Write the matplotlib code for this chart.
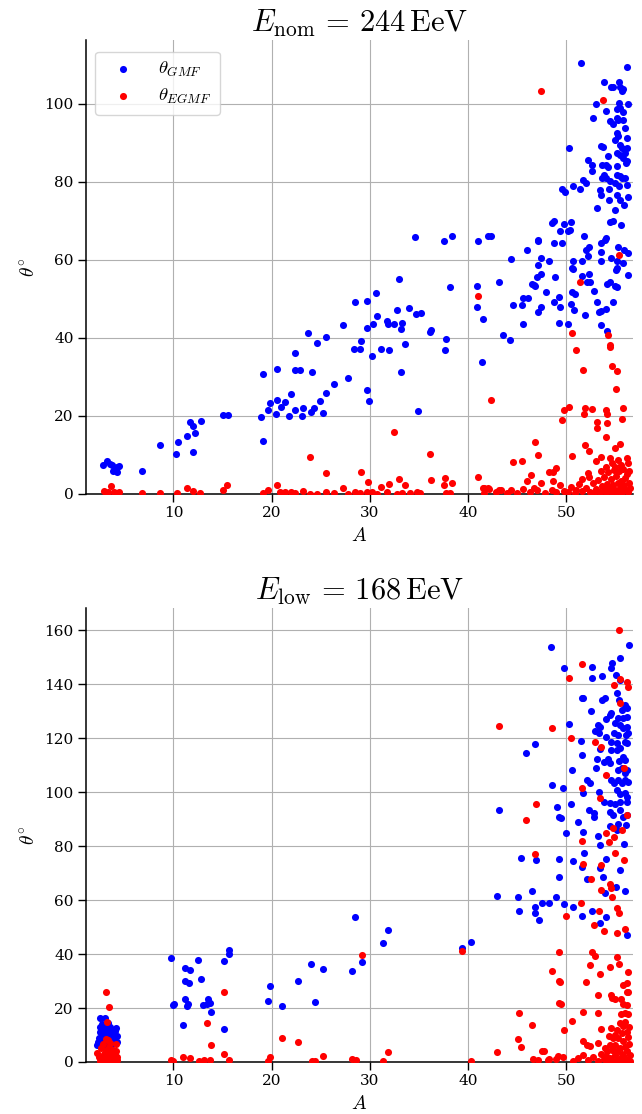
"""
Deflection angles of the simulated cosmic rays against the mass number A,
for the nominal and the low energy case.
"""
import numpy as np
import matplotlib.pyplot as plt

plt.rcParams["font.family"] = "serif"
plt.rcParams["mathtext.fontset"] = "cm"

# (A, theta)
gmf_nom = [
    (2.87, 7.4), (3.28, 8.5), (3.72, 7.3), (3.89, 6.0), (4.23, 5.7), (4.5, 7.2), (4.06, 6.6), (3.5, 7.8), (4.3, 6.9),
    (6.78, 5.9), (8.68, 12.6), (10.3, 10.2), (10.45, 13.2), (11.43, 14.9), (11.73, 18.4), (12.04, 17.4), (12.2, 15.7),
    (12.04, 10.8), (12.79, 18.8), (15.03, 20.2), (15.54, 20.3),
    (19.1, 13.6), (18.96, 19.8), (19.13, 30.8), (19.6, 21.4), (19.85, 23.3), (20.5, 24.0), (20.46, 20.5), (20.5, 32.1),
    (20.94, 22.3), (21.35, 23.6), (21.75, 19.9), (21.99, 25.6), (22.33, 21.4), (22.33, 36.2), (22.33, 31.7), (22.9, 31.7),
    (23.14, 19.9), (23.24, 22.0), (23.75, 41.2), (23.99, 20.9), (24.09, 31.2), (24.3, 21.9), (24.6, 38.8), (24.94, 23.9),
    (25.2, 20.8), (25.55, 40.2), (25.55, 25.8),
    (26.4, 28.2), (27.3, 43.3), (27.8, 29.7), (28.47, 49.1), (28.4, 37.2), (29.0, 37.2), (29.1, 39.1), (29.7, 49.4),
    (29.76, 42.6), (29.76, 26.7), (29.9, 23.7), (30.2, 35.3), (30.3, 43.5), (30.64, 51.4), (30.7, 45.6), (31.1, 37.1),
    (31.76, 44.4), (31.9, 43.5), (32.0, 36.8), (32.47, 43.5), (32.8, 47.2), (33.0, 55.2), (33.2, 42.2), (33.3, 43.9),
    (33.56, 38.3), (33.2, 31.3), (34.0, 47.6), (34.65, 65.8), (34.7, 46.2), (35.2, 46.4), (34.9, 21.3), (36.1, 41.4),
    (36.2, 41.9), (37.6, 64.8), (37.7, 36.8), (37.77, 39.7), (38.15, 53.0), (38.35, 66.0), (41.0, 64.9), (40.96, 53.2),
    (40.96, 48.0), (41.57, 44.8), (41.4, 33.8), (42.0, 66.2), (42.35, 66.1), (43.2, 54.4),
    (51.5, 110.5), (56.2, 109.3), (53.8, 105.6), (54.6, 104.4), (54.8, 104.4), (55.4, 105.6), (55.5, 104.4), (55.7, 103.2),
    (55.8, 103.8), (53.0, 100.0), (55.4, 100.2), (56.3, 100.0), (54.1, 98.2), (55.2, 98.6), (55.5, 99.0), (55.8, 97.8),
    (52.7, 96.3), (54.5, 95.6), (54.8, 94.8), (55.2, 96.3), (55.3, 95.9), (55.8, 95.9), (56.0, 93.8), (55.2, 92.5),
    (55.3, 91.6), (56.2, 91.1), (55.0, 90.8), (50.3, 88.6), (53.5, 89.1), (53.7, 88.8), (55.5, 89.5), (55.7, 88.6),
    (56.2, 88.6), (56.0, 87.4), (55.5, 86.9), (55.2, 87.4), (55.8, 86.1), (54.3, 86.5), (52.2, 85.5), (56.2, 85.2),
    (56.1, 84.8), (52.6, 84.2), (52.6, 82.7), (53.6, 84.2), (54.1, 84.4), (54.3, 83.9), (55.2, 84.1), (53.8, 81.8),
    (53.6, 80.9), (54.1, 80.9), (55.2, 81.8), (55.5, 81.5), (55.7, 80.9), (56.0, 80.9), (51.7, 80.5), (52.0, 79.7),
    (54.5, 80.1), (55.0, 79.8), (55.4, 79.0), (56.2, 79.2), (49.55, 78.2), (49.9, 77.3), (50.7, 78.8), (51.4, 78.1),
    (53.4, 77.9), (53.55, 76.7), (54.4, 78.1), (54.4, 75.2), (55.2, 76.7), (55.5, 75.4), (56.3, 76.1), (55.9, 74.1),
    (53.1, 73.2), (55.0, 72.8), (48.8, 70.0), (48.6, 69.4), (49.8, 69.2), (50.5, 69.6), (50.4, 67.7), (50.2, 67.3),
    (49.4, 67.4), (54.5, 69.6), (54.8, 70.0), (55.6, 69.0), (51.8, 66.2), (54.1, 65.6), (53.9, 65.1), (53.5, 64.4),
    (47.1, 65.1), (47.1, 64.7), (48.8, 64.4), (49.55, 64.3), (46.0, 62.6), (52.3, 63.3), (52.0, 62.4), (52.2, 61.0),
    (55.25, 63.4), (55.9, 62.4), (56.3, 61.7), (53.5, 61.9), (44.4, 60.3), (47.4, 60.4), (48.2, 59.8), (47.1, 58.7),
    (50.7, 59.6), (51.6, 59.8), (53.5, 59.6), (54.6, 60.4), (55.2, 59.6), (55.8, 59.2), (50.6, 57.9), (55.15, 58.0),
    (50.7, 57.6), (51.6, 55.9), (52.3, 56.3), (52.1, 54.4), (52.4, 54.4), (54.2, 53.8), (54.5, 54.2), (55.0, 53.3),
    (55.2, 53.0), (55.1, 57.4), (56.3, 56.2), (47.4, 56.3), (47.0, 55.5), (46.7, 53.6), (46.5, 53.8), (46.8, 53.2),
    (48.9, 55.6), (47.9, 51.7), (50.6, 51.7), (50.9, 51.2), (52.8, 52.1), (54.8, 49.3), (45.6, 50.2), (46.1, 50.2),
    (44.6, 48.5), (45.5, 48.5), (48.8, 49.3), (49.3, 50.4), (49.4, 47.9), (50.5, 48.7), (50.8, 47.2), (53.1, 49.2),
    (53.35, 46.7), (53.5, 47.0), (54.1, 47.4), (51.9, 45.9), (47.4, 47.8), (47.1, 46.5), (45.6, 43.6), (49.3, 43.9),
    (50.2, 43.6), (53.5, 43.3), (54.2, 41.8), (43.6, 40.8), (44.3, 39.5),
]

egmf_nom = [
    (2.9, 0.8), (3.3, 0.5), (3.6, 2.0), (3.9, 0.6), (4.2, 0.3), (4.5, 0.4), (3.1, 0.2),
    (6.78, 0.2), (8.68, 0.2), (10.4, 0.2), (11.43, 1.5), (12.0, 0.8), (12.7, 0.2), (15.0, 0.9), (15.5, 2.4),
    (19.1, 0.2), (19.6, 1.0), (20.5, 2.3), (20.9, 0.6), (21.4, 0.4), (22.0, 0.5), (22.4, 0.3), (23.2, 0.8),
    (23.9, 0.1), (24.6, 0.1), (25.5, 0.6), (23.9, 9.5), (25.55, 5.3),
    (27.3, 1.4), (29.1, 5.6), (29.86, 3.1), (31.1, 1.9), (32.0, 2.6), (32.47, 15.8), (33.0, 3.9), (33.56, 2.3),
    (36.1, 10.3), (36.2, 3.6), (37.7, 4.0), (37.6, 2.3), (38.35, 2.9), (41.0, 4.4), (41.5, 1.4), (42.0, 1.4),
    (43.2, 0.9), (41.0, 50.7), (42.3, 24.2),
    (26.4, 0.3), (27.8, 0.1), (28.5, 0.4), (29.0, 0.3), (29.7, 0.5), (30.2, 0.5), (30.7, 0.1), (31.7, 0.4),
    (32.75, 0.1), (33.3, 0.3), (34.1, 0.2), (34.8, 0.4), (35.1, 0.2), (37.8, 0.2), (38.2, 0.2), (41.6, 0.3),
    (47.4, 103.2), (53.75, 100.9), (55.35, 61.2), (51.4, 54.4), (50.6, 41.2), (54.3, 40.8), (51.0, 36.9),
    (54.5, 37.6), (54.5, 38.2), (51.7, 31.8), (54.7, 32.8), (55.15, 31.5), (55.05, 26.9), (49.8, 21.4),
    (50.3, 22.4), (49.55, 19.0), (51.9, 22.1), (52.6, 21.8), (51.8, 20.4), (54.06, 21.5), (54.2, 20.5),
    (55.8, 22.0), (55.7, 19.1), (53.1, 18.5), (53.1, 16.8), (54.2, 18.3), (54.1, 14.5), (46.8, 13.2),
    (47.1, 10.0), (51.9, 12.6), (52.3, 11.0), (55.5, 12.7), (55.0, 11.7), (50.6, 9.6), (44.6, 8.1), (45.5, 8.5),
    (53.0, 8.5), (53.5, 9.4), (54.5, 9.2), (54.7, 7.9), (55.3, 8.7), (56.2, 9.3), (56.3, 7.9), (46.4, 4.9),
    (48.2, 5.7), (48.7, 5.6), (48.97, 6.7), (51.6, 3.8), (52.2, 5.3), (52.3, 4.4),
    (41.6, 1.4), (42.1, 1.2), (43.4, 1.0), (44.4, 0.9), (45.6, 1.2), (46.0, 3.2), (47.4, 2.9), (46.7, 1.5),
    (48.7, 3.4), (49.4, 2.3),
    (50.2, 0.5), (50.5, 1.8), (50.9, 0.3), (51.3, 2.5), (51.6, 0.8), (52.0, 1.5), (52.4, 0.4), (52.7, 2.8),
    (53.0, 1.2), (53.2, 3.5), (53.4, 0.5), (53.6, 2.0), (53.8, 4.3), (53.9, 1.0), (54.1, 0.3), (54.2, 2.6),
    (54.3, 5.5), (54.4, 1.5), (54.6, 3.8), (54.7, 0.6), (54.8, 2.2), (54.9, 6.2), (55.0, 1.0), (55.1, 4.5),
    (55.2, 0.3), (55.3, 2.9), (55.4, 5.8), (55.5, 1.6), (55.6, 3.4), (55.7, 0.5), (55.8, 6.5), (55.9, 2.4),
    (56.0, 4.0), (56.1, 1.1), (56.2, 5.0), (56.3, 0.4), (56.4, 2.8), (56.5, 1.5), (55.0, 7.0), (55.6, 7.5),
    (54.0, 6.8), (56.4, 6.0), (53.5, 6.0), (52.8, 0.2), (51.0, 1.0), (49.8, 0.8), (49.0, 0.4), (48.5, 1.0),
    (47.8, 0.3), (47.0, 1.0), (46.3, 0.4), (45.0, 0.3), (44.0, 0.2), (42.8, 0.5),
]

gmf_low = [
    (2.2, 6.4), (2.3, 7.5), (2.4, 9.0), (2.5, 11.0), (2.5, 12.8), (2.55, 16.3), (2.7, 14.0), (2.8, 10.5),
    (2.9, 8.2), (2.9, 12.5), (3.0, 16.2), (3.05, 13.5), (3.1, 11.0), (3.2, 9.5), (3.2, 7.0), (3.3, 14.5),
    (3.35, 12.0), (3.4, 10.0), (3.5, 8.5), (3.5, 13.0), (3.6, 11.5), (3.7, 9.2), (3.75, 6.5), (3.9, 10.5),
    (4.0, 8.0), (4.1, 11.5), (4.2, 12.7), (4.25, 9.8), (4.3, 7.5), (2.6, 5.5), (3.0, 5.0),
    (9.73, 38.5), (9.94, 21.2), (10.07, 21.6), (10.96, 13.8), (11.2, 35.0), (11.7, 34.2), (11.2, 29.9),
    (11.6, 29.3), (11.2, 23.3), (11.36, 20.6), (11.5, 21.5), (12.55, 37.9), (12.8, 30.9), (13.06, 21.2),
    (13.4, 21.6), (13.56, 23.3), (13.74, 21.9), (13.84, 18.4), (15.1, 37.6), (15.1, 12.3), (15.7, 41.6),
    (15.67, 40.0), (19.6, 22.7), (19.85, 28.0), (21.1, 20.6), (22.7, 30.1),
    (24.05, 36.4), (25.2, 34.3), (24.4, 22.4), (28.5, 53.8), (28.2, 33.8), (29.25, 37.1), (31.3, 44.1),
    (31.8, 48.9), (39.4, 42.4), (40.3, 44.3),
    (48.46, 153.9), (46.8, 117.8), (45.9, 114.4), (48.5, 102.7), (43.2, 93.4), (49.1, 94.7), (49.3, 90.7),
    (45.4, 75.6), (46.9, 74.9), (49.3, 75.2), (49.3, 68.7), (43.0, 61.6), (45.1, 61.0), (46.5, 63.4),
    (45.2, 56.0), (46.8, 57.6), (46.8, 55.2), (47.5, 59.1), (48.2, 59.1), (49.0, 61.0), (47.2, 52.5),
    (56.4, 154.5), (55.5, 149.9), (54.7, 147.8), (54.6, 145.9), (49.8, 146.1), (52.6, 146.5), (52.6, 142.4),
    (53.6, 143.0), (55.1, 143.4), (55.5, 141.6), (51.6, 134.8), (51.75, 135.0), (53.6, 134.2), (53.9, 134.8),
    (55.2, 136.7), (55.4, 134.2), (52.5, 130.1), (56.0, 132.3), (55.65, 130.5), (56.2, 131.1), (54.6, 129.3),
    (54.5, 128.6), (54.0, 127.1), (55.3, 127.4), (55.8, 127.4), (56.2, 128.0), (50.3, 125.3), (53.2, 124.9),
    (53.45, 124.3), (55.0, 125.6), (55.5, 124.9), (55.8, 123.7), (56.2, 124.3), (52.9, 122.7), (53.3, 121.9),
    (54.9, 121.9), (55.3, 121.2), (56.1, 121.2), (56.3, 121.9), (51.5, 119.1), (54.1, 120.4), (54.6, 118.7),
    (55.2, 118.1), (56.0, 118.7), (56.2, 118.4), (53.45, 116.0), (54.6, 115.7), (55.15, 115.7), (55.5, 116.3),
    (51.6, 113.8), (55.8, 113.2), (56.0, 112.0), (55.4, 111.7), (53.1, 112.2), (53.8, 111.3), (54.3, 112.2),
    (54.5, 110.7), (53.0, 109.1), (55.3, 108.3), (55.65, 108.9), (56.0, 107.0), (56.2, 108.3), (50.6, 108.3),
    (54.6, 104.6), (54.9, 103.6), (55.3, 104.6), (55.65, 103.6), (56.0, 104.6), (56.3, 103.9), (52.1, 104.6),
    (52.4, 103.6), (49.7, 101.7), (51.75, 99.6), (53.3, 100.2), (55.15, 100.9), (55.5, 99.4), (56.0, 99.6),
    (56.2, 98.4), (53.8, 96.5), (54.5, 95.9), (55.0, 95.7), (55.5, 96.5), (56.2, 96.5), (50.5, 95.6),
    (52.3, 93.4), (52.8, 92.2), (52.85, 91.0), (54.5, 92.8), (54.8, 91.6), (55.5, 93.4), (55.8, 91.0),
    (56.2, 91.6), (49.5, 90.6), (51.2, 89.1), (54.5, 87.5), (55.3, 88.3), (56.1, 87.9), (51.7, 85.4),
    (53.2, 83.8), (55.15, 86.0), (50.0, 84.8),
    (53.45, 80.5), (55.9, 80.9), (51.85, 77.6), (50.7, 74.6), (54.1, 75.2), (51.65, 72.4), (53.4, 71.9),
    (55.5, 71.0), (52.1, 67.8), (53.7, 68.7), (55.05, 65.0), (56.0, 63.4), (53.96, 62.6), (49.8, 58.6),
    (50.7, 57.6), (52.6, 56.1), (51.65, 54.3), (54.06, 53.6), (53.4, 51.5), (56.2, 47.1),
]

egmf_low = [
    (3.15, 25.9), (3.45, 20.2), (3.2, 15.0), (3.3, 8.0), (3.1, 8.5), (3.5, 7.2), (4.2, 6.6), (2.2, 3.5),
    (2.4, 2.0), (2.5, 0.5), (2.7, 1.2), (2.9, 3.0), (3.0, 0.3), (3.1, 4.5), (3.2, 2.2), (3.35, 1.0),
    (3.5, 3.5), (3.6, 0.6), (3.7, 2.5), (3.8, 4.5), (3.9, 1.5), (4.0, 0.3), (4.1, 3.2), (4.25, 2.0),
    (4.3, 0.8), (2.6, 5.0), (3.4, 5.5), (2.8, 6.5), (4.2, 4.0),
    (15.1, 25.9), (13.46, 14.4), (13.84, 6.2), (15.1, 3.1), (21.1, 8.9), (22.7, 7.3), (10.96, 2.0),
    (11.7, 1.5), (9.73, 0.8), (10.0, 0.5), (12.6, 0.3), (13.1, 0.6), (13.7, 0.8), (15.7, 0.6), (19.6, 0.4),
    (19.85, 2.0),
    (29.25, 39.6), (25.2, 2.3), (24.1, 0.2), (24.4, 0.5), (28.2, 1.1), (28.6, 0.6), (31.3, 0.5), (31.8, 3.8),
    (39.4, 41.2), (40.3, 0.5),
    (43.2, 124.7), (48.5, 123.9), (46.9, 95.7), (45.9, 89.7), (46.8, 77.0), (49.3, 40.6), (48.5, 33.6),
    (49.3, 29.9), (49.3, 21.8), (45.2, 18.1), (46.5, 13.6), (45.1, 8.5), (45.4, 5.4), (43.0, 3.7), (47.5, 3.9),
    (46.6, 1.0), (47.1, 0.8), (48.1, 0.8), (49.0, 1.2),
    (55.4, 160.1), (51.6, 147.4), (50.3, 142.4), (55.5, 142.0), (56.2, 141.0), (56.3, 138.9), (54.9, 139.7),
    (55.5, 133.0), (50.5, 120.2), (52.9, 118.7), (53.5, 116.9), (55.9, 108.9), (54.0, 106.4), (51.65, 101.5),
    (53.45, 98.0), (56.2, 91.6), (54.1, 84.8), (54.8, 86.7), (55.65, 86.0),
    (51.6, 82.1), (54.4, 81.7), (54.9, 83.3), (55.0, 77.6), (55.9, 74.9), (51.75, 73.4), (53.5, 73.1),
    (52.5, 67.8), (54.5, 66.0), (54.6, 64.4), (54.7, 61.3), (53.5, 63.6), (51.5, 59.1), (50.0, 54.3),
    (53.3, 55.8), (52.8, 50.9), (53.8, 48.7), (55.15, 57.0), (55.4, 55.2), (56.0, 49.3), (55.2, 47.8),
    (52.6, 40.7), (52.9, 39.4), (55.15, 39.1), (52.4, 35.8), (53.45, 32.7), (54.5, 35.2), (55.4, 36.4),
    (56.3, 33.2), (49.4, 29.6), (52.0, 29.5), (55.8, 28.6), (56.2, 29.3), (56.3, 25.9), (53.2, 24.7),
    (54.6, 24.9), (54.7, 23.7), (55.6, 23.4), (55.8, 21.6), (56.2, 21.2), (49.45, 21.6), (51.75, 18.7),
    (53.2, 18.1), (55.6, 17.8), (56.0, 18.0), (56.3, 17.7), (50.6, 15.3), (49.8, 11.7), (53.55, 12.2),
    (51.75, 7.6), (52.4, 5.8), (53.2, 7.0), (55.0, 23.3), (56.2, 26.1),
    (47.7, 4.2), (48.2, 1.1), (49.2, 2.3), (49.7, 1.9), (50.7, 0.5), (51.2, 1.5), (51.7, 2.6), (52.2, 0.8),
    (52.7, 1.8), (53.2, 0.3), (53.5, 2.9), (52.1, 6.4),
    (55.5, 14.4), (55.8, 13.2), (55.15, 12.0), (55.65, 10.7), (56.2, 11.0), (54.8, 8.9), (55.3, 8.9),
    (55.8, 7.6), (56.3, 9.2), (54.5, 6.4), (55.0, 6.4), (55.5, 5.2), (56.0, 5.5), (56.4, 6.8), (54.2, 3.9),
    (54.7, 4.5), (55.2, 3.9), (55.7, 3.0), (56.2, 3.9), (56.5, 2.5), (54.0, 2.1), (54.5, 1.5), (55.0, 2.7),
    (55.4, 1.2), (55.9, 1.8), (56.3, 0.8), (54.3, 0.4), (54.8, 0.2), (55.2, 0.6), (55.6, 0.3), (56.1, 0.5),
    (56.5, 0.2), (53.8, 1.0), (55.0, 10.0), (54.6, 12.5), (56.0, 15.0), (54.4, 9.5), (53.9, 5.0), (56.4, 13.0),
]

titles = [r"$E_{\rm nom}\,=\,244\,{\rm EeV}$", r"$E_{\rm low}\,=\,168\,{\rm EeV}$"]

fig = plt.figure(figsize=(6.42, 11.14), dpi=100)
ax_nom = fig.add_axes([0.134, 0.5566, 0.852, 0.4074])
ax_low = fig.add_axes([0.134, 0.0467, 0.852, 0.4075])

panels = [(ax_nom, gmf_nom, egmf_nom, 116.3), (ax_low, gmf_low, egmf_low, 168.3)]
for i, (ax, gmf, egmf, ytop) in enumerate(panels):
    gmf = np.array(gmf)
    egmf = np.array(egmf)
    ax.scatter(gmf[:, 0], gmf[:, 1], s=26, color="blue", linewidths=0,
               label=r"$\theta_{GMF}$", zorder=3)
    ax.scatter(egmf[:, 0], egmf[:, 1], s=26, color="red", linewidths=0,
               label=r"$\theta_{EGMF}$", zorder=3)
    ax.set_xlim(1.1, 56.8)
    ax.set_ylim(0, ytop)
    ax.set_xticks([10, 20, 30, 40, 50])
    ax.set_yticks(np.arange(0, ytop, 20))
    ax.grid(True, color="#b0b0b0", linewidth=0.8)
    ax.set_axisbelow(True)
    for side in ("top", "right"):
        ax.spines[side].set_visible(False)
    ax.spines["left"].set_linewidth(1.1)
    ax.spines["bottom"].set_linewidth(1.1)
    ax.tick_params(labelsize=11, length=5.5, width=1)
    ax.set_xlabel(r"$A$", fontsize=14, labelpad=5)
    ax.set_ylabel(r"$\theta^{\circ}$", fontsize=14, labelpad=4)
    ax.set_title(titles[i], fontsize=22, pad=6)

ax_nom.legend(loc="upper left", fontsize=13.5, borderpad=0.45, labelspacing=0.4,
              handletextpad=0.9, bbox_to_anchor=(0.0, 0.995))

fig.savefig("out.png", dpi=100)
